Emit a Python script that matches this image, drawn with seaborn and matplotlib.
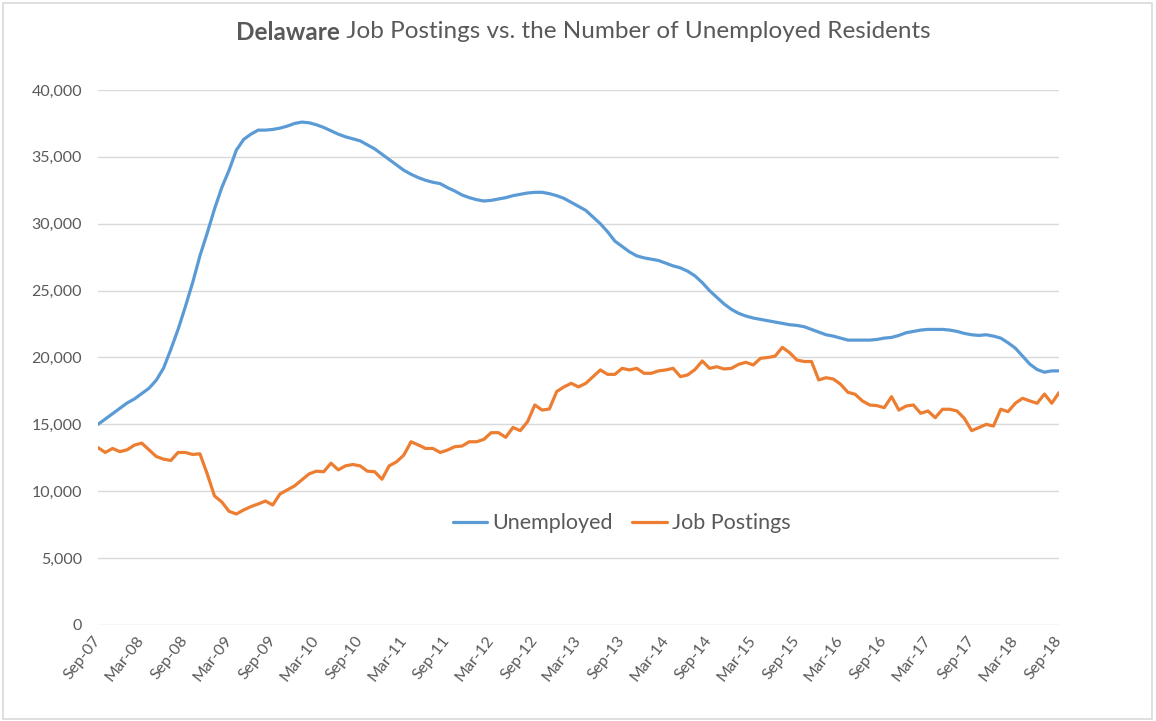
import numpy as np
import pandas as pd
import matplotlib
matplotlib.use("Agg")
import matplotlib.pyplot as plt
import seaborn as sns
from matplotlib.lines import Line2D
from matplotlib.patches import Rectangle
from matplotlib.ticker import FuncFormatter

# ---- data (values in thousands) ----
unemployed_k = [
    15.0, 15.4, 15.8, 16.2, 16.6, 16.9, 17.3, 17.7, 18.3, 19.2,
    20.6, 22.1, 23.8, 25.6, 27.6, 29.3, 31.1, 32.7, 34.0, 35.5,
    36.3, 36.7, 37.0, 37.0, 37.05, 37.15, 37.3, 37.5, 37.6, 37.55,
    37.4, 37.2, 36.95, 36.7, 36.5, 36.35, 36.2, 35.9, 35.6, 35.2,
    34.8, 34.4, 34.0, 33.7, 33.45, 33.25, 33.1, 33.0, 32.7, 32.45,
    32.15, 31.95, 31.8, 31.7, 31.75, 31.85, 31.95, 32.1, 32.2, 32.3,
    32.35, 32.35, 32.25, 32.1, 31.9, 31.6, 31.3, 31.0, 30.5, 30.0,
    29.4, 28.7, 28.3, 27.9, 27.6, 27.45, 27.35, 27.25, 27.05, 26.85,
    26.7, 26.45, 26.1, 25.6, 25.0, 24.5, 24.0, 23.6, 23.3, 23.1,
    22.95, 22.85, 22.75, 22.65, 22.55, 22.45, 22.4, 22.3, 22.1, 21.9,
    21.7, 21.6, 21.45, 21.3, 21.3, 21.3, 21.3, 21.35, 21.45, 21.5,
    21.65, 21.85, 21.95, 22.05, 22.1, 22.1, 22.1, 22.05, 21.95, 21.8,
    21.7, 21.65, 21.7, 21.6, 21.45, 21.1, 20.7, 20.1, 19.5, 19.1,
    18.9, 19.0, 19.0,
]
job_postings_k = [
    13.26, 12.9, 13.2, 12.96, 13.1, 13.45, 13.6, 13.1, 12.6, 12.4,
    12.3, 12.9, 12.9, 12.75, 12.8, 11.3, 9.65, 9.2, 8.5, 8.3,
    8.6, 8.85, 9.05, 9.27, 8.97, 9.8, 10.1, 10.4, 10.85, 11.3,
    11.5, 11.46, 12.1, 11.6, 11.9, 12.0, 11.9, 11.5, 11.46, 10.9,
    11.9, 12.2, 12.7, 13.7, 13.46, 13.2, 13.2, 12.9, 13.08, 13.33,
    13.38, 13.7, 13.7, 13.88, 14.38, 14.38, 14.03, 14.77, 14.53, 15.2,
    16.45, 16.07, 16.15, 17.45, 17.8, 18.07, 17.8, 18.07, 18.57, 19.07,
    18.74, 18.74, 19.19, 19.07, 19.19, 18.82, 18.82, 19.0, 19.07, 19.19,
    18.57, 18.7, 19.1, 19.74, 19.19, 19.31, 19.14, 19.19, 19.49, 19.64,
    19.44, 19.94, 20.0, 20.1, 20.76, 20.36, 19.81, 19.7, 19.7, 18.32,
    18.49, 18.39, 18.0, 17.4, 17.25, 16.75, 16.45, 16.4, 16.25, 17.07,
    16.07, 16.37, 16.45, 15.83, 16.0, 15.5, 16.13, 16.13, 16.0, 15.45,
    14.53, 14.76, 15.0, 14.88, 16.13, 15.95, 16.58, 16.95, 16.75, 16.58,
    17.27, 16.58, 17.37,
]
tick_labels = [
    "Sep-07", "Mar-08", "Sep-08", "Mar-09", "Sep-09", "Mar-10", "Sep-10",
    "Mar-11", "Sep-11", "Mar-12", "Sep-12", "Mar-13", "Sep-13", "Mar-14",
    "Sep-14", "Mar-15", "Sep-15", "Mar-16", "Sep-16", "Mar-17", "Sep-17",
    "Mar-18", "Sep-18",
]
series_names = ["Unemployed", "Job Postings"]
series_colors = ["#5B9BD5", "#ED7D31"]
title_bold = "Delaware"
title_rest = " Job Postings vs. the Number of Unemployed Residents"

# ---- build long-form table ----
month_idx = np.arange(len(unemployed_k))
df = pd.DataFrame({
    "month": month_idx,
    series_names[0]: np.array(unemployed_k) * 1000,
    series_names[1]: np.array(job_postings_k) * 1000,
}).melt(id_vars="month", var_name="series", value_name="value")

sns.set_theme(style="white")
plt.rcParams["font.family"] = ["Lato", "DejaVu Sans"]

W, H = 1156, 721
fig = plt.figure(figsize=(W / 100, H / 100), dpi=100)
fig.patch.set_facecolor("white")
ax = fig.add_axes([98 / W, 1 - 625 / H, (1059 - 98) / W, (625 - 90) / H])

palette = dict(zip(series_names, series_colors))
sns.lineplot(data=df, x="month", y="value", hue="series", hue_order=series_names,
             palette=palette, linewidth=2.3, ax=ax, legend=False)

ax.set_xlim(0, len(month_idx) - 1)
ax.set_ylim(0, 40000)
ax.set_yticks(range(0, 40001, 5000))
ax.yaxis.set_major_formatter(FuncFormatter(lambda v, p: f"{int(v):,}"))
ax.set_xticks(range(0, len(month_idx), 6))
ax.set_xticklabels(tick_labels, rotation=52, ha="right", va="center",
                   rotation_mode="anchor")
ax.grid(axis="y", color="#d9d9d9", linewidth=1)
ax.grid(axis="x", visible=False)
for s in ax.spines.values():
    s.set_visible(False)
ax.tick_params(axis="both", length=0, labelsize=11.5, colors="#595959")
ax.tick_params(axis="y", pad=11.5)
ax.tick_params(axis="x", pad=9)
ax.set_xlabel("")
ax.set_ylabel("")

# legend inside plot
handles = [Line2D([0], [0], color=c, lw=2.3) for c in series_colors]
leg = ax.legend(handles, series_names, loc="center", bbox_to_anchor=(0.545, 0.19),
                ncol=2, frameon=False, fontsize=15.5, handlelength=1.6,
                handletextpad=0.25, columnspacing=0.9)
for t in leg.get_texts():
    t.set_color("#595959")

# title: bold part + regular part, centred together
t1 = fig.text(0, 1 - 32 / H, title_bold, fontsize=17.5, fontweight="bold",
              color="#595959", va="center", ha="left")
t2 = fig.text(0, 1 - 32 / H, title_rest, fontsize=17.5, color="#595959",
              va="center", ha="left")
fig.canvas.draw()
r = fig.canvas.get_renderer()
w1 = t1.get_window_extent(r).width
w2 = t2.get_window_extent(r).width
x0 = 583 - (w1 + w2) / 2
t1.set_x(x0 / W)
t2.set_x((x0 + w1) / W)

# outer light border
fig.add_artist(Rectangle((3 / W, 2 / H), (1152 - 3) / W, (718 - 2) / H,
                         transform=fig.transFigure, fill=False,
                         edgecolor="#d9d9d9", linewidth=1.2))

fig.savefig("out.png", dpi=100)
